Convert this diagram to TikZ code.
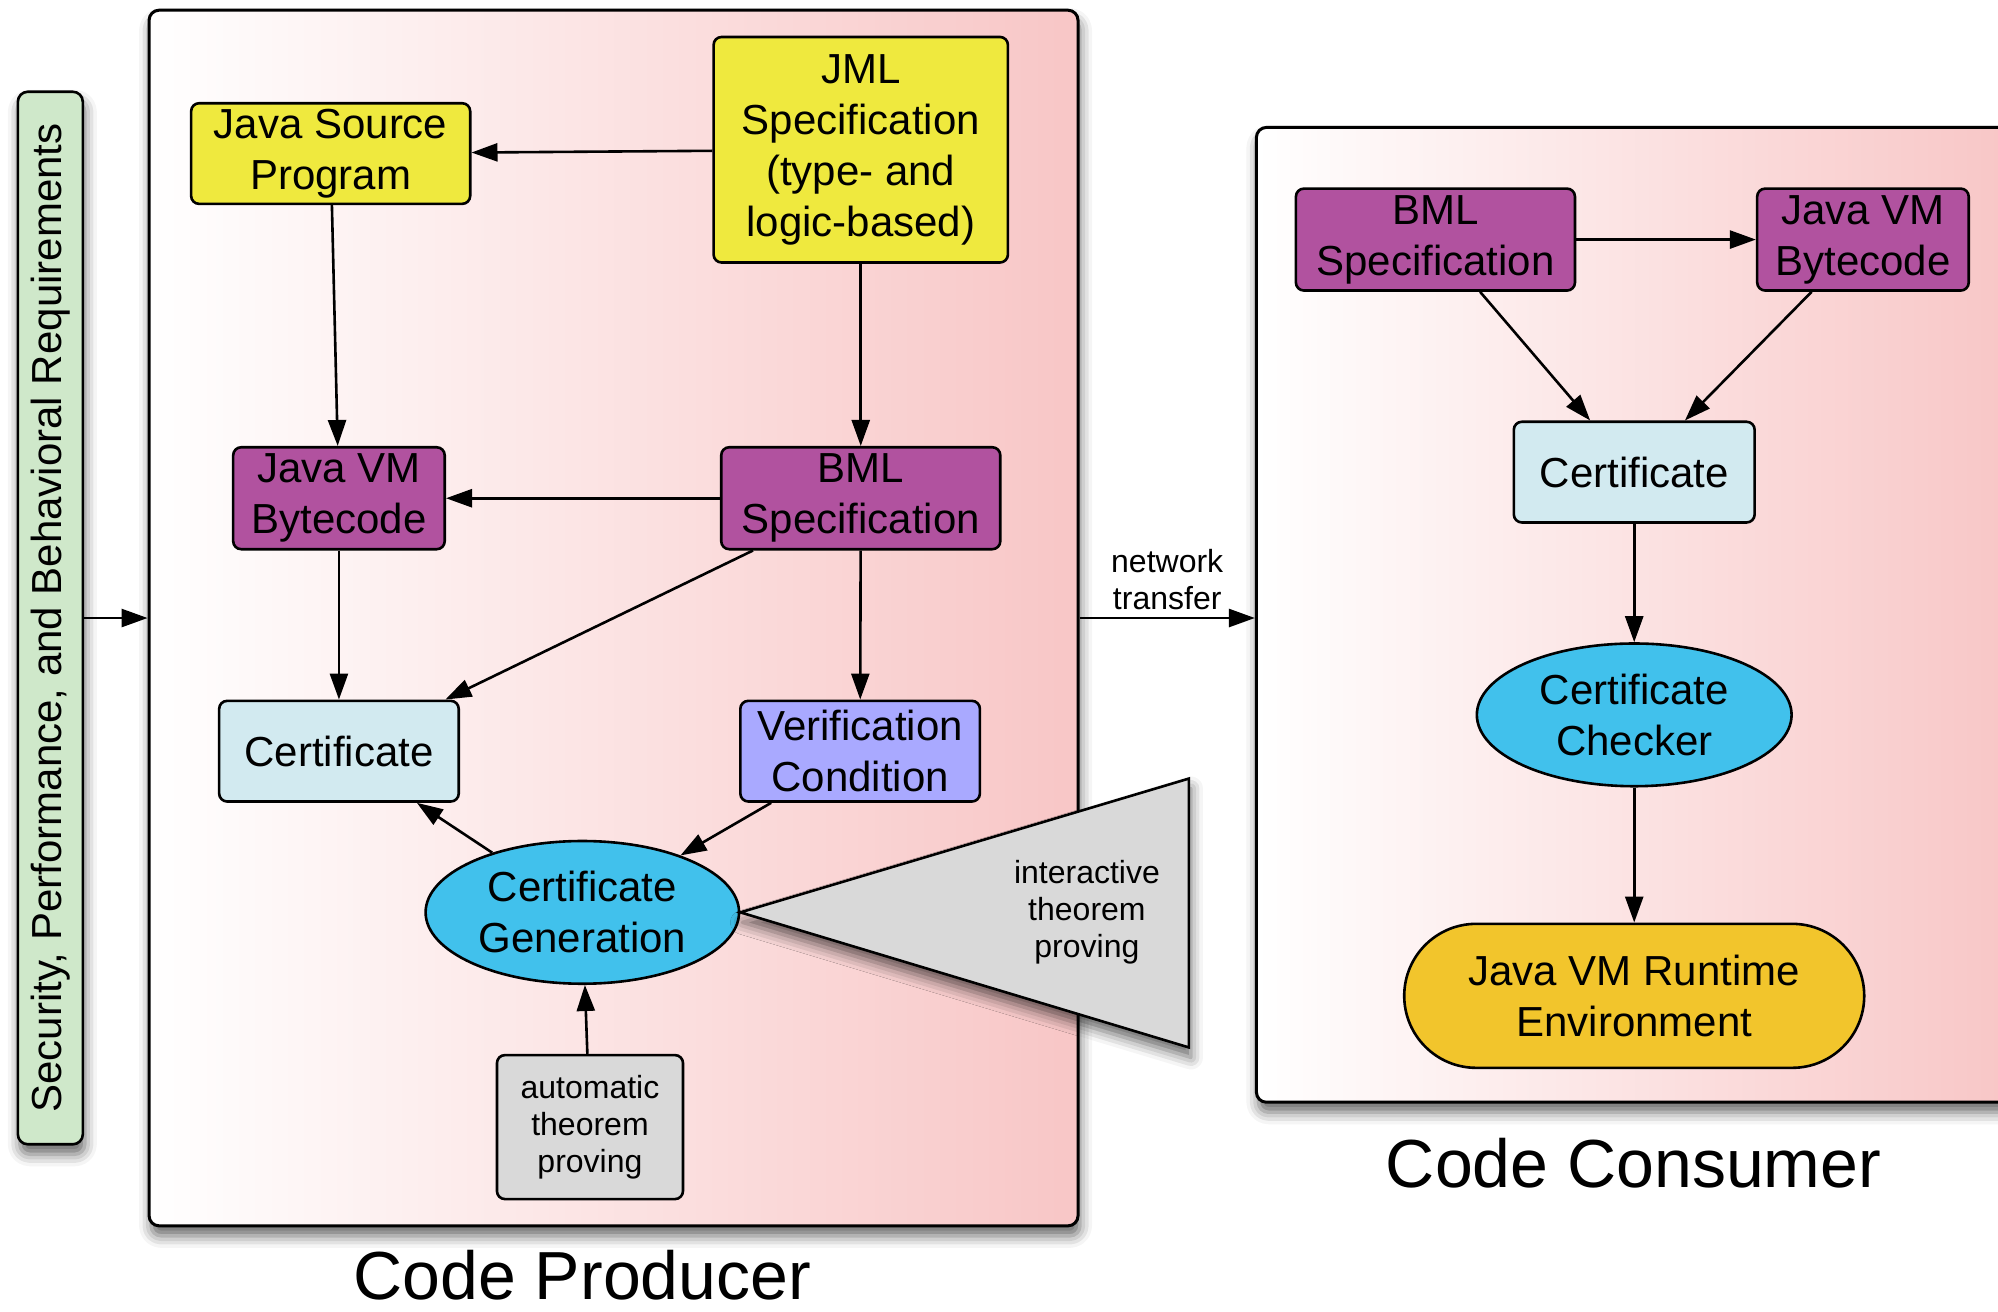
\documentclass[tikz,border=0pt]{standalone}
\usepackage{fontspec}
\setmainfont{Liberation Sans}
\usetikzlibrary{arrows.meta,positioning,shapes.geometric,shadows,shadows.blur,calc}
\definecolor{specYellow}{RGB}{239,233,62}
\definecolor{codePurple}{RGB}{177,82,159}
\definecolor{certBlue}{RGB}{210,234,240}
\definecolor{vcLavender}{RGB}{169,169,255}
\definecolor{procCyan}{RGB}{65,193,236}
\definecolor{toolGray}{RGB}{217,217,217}
\definecolor{runGold}{RGB}{242,197,44}
\definecolor{reqGreen}{RGB}{207,232,202}
\definecolor{framePink}{RGB}{248,198,198}
\newcommand{\pxu}{0.637pt}
\newcommand{\boxFont}{\fontsize{21}{25.5}\selectfont}
\newcommand{\smallFont}{\fontsize{16}{18.5}\selectfont}
\tikzset{
  >={Triangle[length=13pt,width=9pt,fill=black]},
  every path/.style={line width=1.3pt},
  box/.style={draw, rounded corners=4pt, align=center, inner sep=0pt, font=\boxFont},
  specBox/.style={box, fill=specYellow},
  codeBox/.style={box, fill=codePurple},
  certBox/.style={box, fill=certBlue},
  vcBox/.style={box, fill=vcLavender},
  toolBox/.style={box, fill=toolGray, font=\smallFont},
  procEllipse/.style={ellipse, draw, fill=procCyan, align=center, inner sep=0pt, font=\boxFont},
  runBox/.style={box, fill=runGold, rounded corners=36pt},
  softShadow/.style={blur shadow={shadow xshift=1pt, shadow yshift=-5pt, shadow blur radius=6pt, shadow opacity=60}},
  frame/.style={draw, line width=1.5pt, rounded corners=5pt, left color=white, right color=framePink, softShadow},
  reqBar/.style={box, fill=reqGreen, rounded corners=5pt},
  caption/.style={font=\fontsize{34}{40}\selectfont},
  smallText/.style={align=center, font=\smallFont},
  link/.style={->, draw=black},
}

\begin{document}
\begin{tikzpicture}[x=0.637pt, y=-0.637pt]
\useasboundingbox (0,0) rectangle (1568,1029);

% ===== Frames =====
\node[frame, minimum width=729*\pxu, minimum height=954*\pxu] (producer) at (481.5,485) {};
\node[frame, minimum width=594*\pxu, minimum height=765*\pxu] (consumer) at (1283,482.5) {};
\node[caption] (producerLabel) at (457,1001) {Code Producer};
\node[caption] (consumerLabel) at (1282,913) {Code Consumer};

% ===== Requirements =====
\node[reqBar, softShadow, rotate=90, minimum width=826*\pxu, minimum height=51*\pxu] (reqs) at (39.5,485)
  {Security, Performance, and Behavioral Requirements};
\draw[link] (reqs) -- (reqs -| producer.west);

% ===== Producer side =====
\node[specBox, minimum width=219*\pxu, minimum height=79*\pxu] (javaSrc) at (259.5,120.5) {Java Source\\Program};
\node[specBox, minimum width=231*\pxu, minimum height=177*\pxu] (jmlSpec) at (675.5,117.5) {JML\\Specification\\(type- and\\logic-based)};
\node[codeBox, minimum width=166*\pxu, minimum height=80*\pxu] (jvmCode) at (266,391) {Java VM\\Bytecode};
\node[codeBox, minimum width=219*\pxu, minimum height=80*\pxu] (bmlSpec) at (675.5,391) {BML\\Specification};
\node[certBox, minimum width=188*\pxu, minimum height=79*\pxu] (cert) at (266,589.5) {Certificate};
\node[vcBox, minimum width=188*\pxu, minimum height=79*\pxu] (verCond) at (675,589.5) {Verification\\Condition};
\node[procEllipse, minimum width=246*\pxu, minimum height=112*\pxu] (certGen) at (457,716) {Certificate\\Generation};
\node[toolBox, minimum width=146*\pxu, minimum height=113*\pxu] (autoProve) at (463,884.5) {automatic\\theorem\\proving};

% interactive prover funnel
\draw[fill=toolGray, softShadow]
  (certGen.east) -- (933,611) -- (933,822) -- cycle;
\node[smallText] (interProve) at (853,716) {interactive\\theorem\\proving};

\draw[link] (jmlSpec) -- (javaSrc);
\draw[link] (javaSrc) -- (jvmCode);
\draw[link] (jmlSpec) -- (bmlSpec);
\draw[link] (bmlSpec) -- (jvmCode);
\draw[link] (jvmCode) -- (cert);
\draw[link] (bmlSpec) -- (cert);
\draw[link] (bmlSpec) -- (verCond);
\draw[link] (verCond) -- (certGen);
\draw[link] (certGen) -- (cert);
\draw[link] (autoProve) -- (certGen);

% ===== Network =====
\draw[link] (producer.east) -- (producer.east -| consumer.west)
  node[midway, above, smallText] {network\\transfer};

% ===== Consumer side =====
\node[codeBox, minimum width=219*\pxu, minimum height=80*\pxu] (cBmlSpec) at (1126.5,188) {BML\\Specification};
\node[codeBox, minimum width=166*\pxu, minimum height=80*\pxu] (cJvmCode) at (1462,188) {Java VM\\Bytecode};
\node[certBox, minimum width=189*\pxu, minimum height=79*\pxu] (cCert) at (1282.5,370.5) {Certificate};
\node[procEllipse, minimum width=247*\pxu, minimum height=112*\pxu] (certCheck) at (1282.5,561) {Certificate\\Checker};
\node[runBox, minimum width=361*\pxu, minimum height=113*\pxu] (jvmRun) at (1282.5,781.5) {Java VM Runtime\\Environment};

\draw[link] (cBmlSpec) -- (cJvmCode);
\draw[link] (cBmlSpec) -- (cCert);
\draw[link] (cJvmCode) -- (cCert);
\draw[link] (cCert) -- (certCheck);
\draw[link] (certCheck) -- (jvmRun);

\end{tikzpicture}
\end{document}
